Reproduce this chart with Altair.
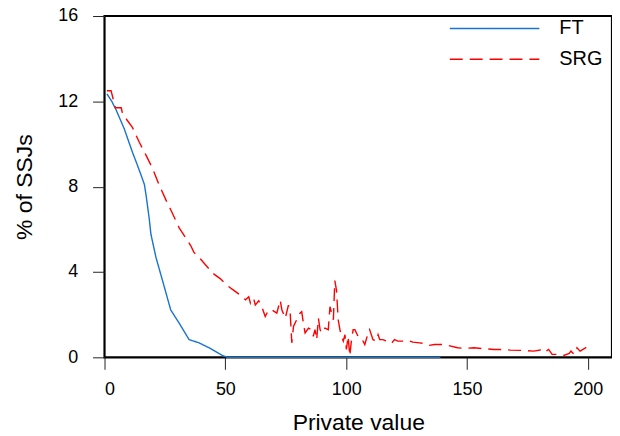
import altair as alt
import pandas as pd

# FT series (smooth blue line)
ft_x = [1, 3, 4.8, 8.2, 11.6, 13.3, 15.1, 16.5, 17.2, 18.5, 19.2, 21.3, 24, 27.4, 30.9, 35, 39.1, 43.2, 48.7, 51, 139]
ft_y = [12.35, 12.0, 11.6, 10.7, 9.6, 9.1, 8.55, 8.1, 7.6, 6.5, 5.77, 4.68, 3.6, 2.22, 1.6, 0.83, 0.68, 0.45, 0.09, 0.0, 0.0]

# SRG series (noisy red dashed line)
srg_x = [1, 2.7, 4.5, 6.9, 7.5, 9.6, 11.6, 14.4, 17.2, 19.9, 22.6, 25.4, 27.4, 30.9, 33.6, 35.7, 37, 39.8,
         43.2, 45.3, 48, 50.7, 53.5, 56.3, 58.3, 59.7, 60.4, 61.7, 62.4, 63.8, 65.1, 66.5, 67.9, 69.3, 71.3,
         72.7, 73.4, 74.8, 76.1, 76.8, 77.5, 78.2, 79.5, 80.9, 81.6, 82.3, 83, 84.4, 85.7, 86.4, 87.1, 87.8,
         88.5, 89.2, 89.8, 91.2, 92.6, 93.3, 94, 94.7, 95.3, 96, 96.7, 97.4, 98.1, 98.8, 99.5, 100.1, 100.8,
         101.5, 102.2, 102.9, 103.6, 104.9, 106.3, 107.7, 109.1, 109.7, 111.1, 112.5, 113.2, 113.9, 115.2,
         118.7, 120, 121.4, 124.1, 125.5, 127.6, 130.3, 132.4, 134.4, 136.5, 140.6, 146.1, 148.8, 152.9,
         157.1, 161.2, 165.3, 168, 173.5, 177.6, 180.4, 181.8, 183.8, 185.2, 187.5, 190, 192.3, 193, 194.4,
         195.5, 196.8, 199.6]
srg_y = [12.5, 12.5, 11.7, 11.7, 11.4, 11.08, 10.77, 10.08, 9.47, 8.85, 8.08, 7.38, 6.92, 6.07, 5.6, 5.23, 4.92, 4.6,
         4.15, 3.9, 3.68, 3.37, 3.14, 2.91, 2.7, 2.84, 2.53, 2.76, 2.45, 2.65, 2.37, 1.91, 2.22, 2.22, 2.07,
         2.68, 2.22, 1.83, 2.45, 2.14, 0.68, 1.45, 1.76, 2.07, 2.14, 1.6, 1.14, 1.37, 1.3, 0.99, 1.3, 0.83,
         1.83, 1.3, 1.14, 1.37, 1.3, 2.37, 2.07, 1.76, 3.6, 3.14, 1.76, 1.3, 0.99, 0.76, 1.06, 0.37, 0.99,
         0.06, 0.83, 1.3, 1.3, 0.99, 0.91, 0.6, 1.14, 1.3, 0.83, 0.76, 1.06, 0.83, 0.83,
         0.65, 0.83, 0.76, 0.76, 0.8, 0.71, 0.68, 0.65, 0.56, 0.6, 0.6, 0.45, 0.42, 0.45,
         0.4, 0.37, 0.37, 0.34, 0.32, 0.29, 0.34, 0.22, 0.37, 0.14, 0.14, 0.09, 0.18, 0.29, 0.14,
         0.45, 0.29, 0.48]

series_names = ["FT", "SRG"]
series_colors = ["#1874CD", "#FF0000"]
series_dashes = [[1, 0], [13, 7]]

x_ticks = [0, 50, 100, 150, 200]
y_ticks = [0, 4, 8, 12, 16]

df = pd.concat([
    pd.DataFrame({"x": ft_x, "y": ft_y, "series": "FT"}),
    pd.DataFrame({"x": srg_x, "y": srg_y, "series": "SRG"}),
], ignore_index=True)

FONT = "Liberation Sans"

chart = alt.Chart(df).mark_line(strokeWidth=1.4).encode(
    x=alt.X("x:Q",
            scale=alt.Scale(domain=[0, 210], nice=False, zero=False),
            axis=alt.Axis(values=x_ticks, title="Private value", titleY=73,
                          titleBaseline="alphabetic", labelPadding=11)),
    y=alt.Y("y:Q",
            scale=alt.Scale(domain=[0, 16], nice=False),
            axis=alt.Axis(values=y_ticks, title="% of SSJs", titleX=-73,
                          titleBaseline="alphabetic", labelPadding=15)),
    color=alt.Color("series:N",
                    scale=alt.Scale(domain=series_names, range=series_colors),
                    legend=alt.Legend(title=None)),
    strokeDash=alt.StrokeDash("series:N",
                              scale=alt.Scale(domain=series_names, range=series_dashes),
                              legend=alt.Legend(title=None)),
).properties(
    width=510, height=343,
    autosize=alt.AutoSizeParams(type="none"),
    padding={"left": 97, "top": 7, "right": 0, "bottom": 78},
).configure_view(
    stroke="black", strokeWidth=2.2
).configure_axis(
    domain=False, grid=False, ticks=True, tickSize=12, tickColor="#222", tickWidth=1,
    labelFont=FONT, labelFontSize=18, labelColor="black",
    titleFont=FONT, titleFontSize=23, titleFontWeight="normal", titleColor="black",
).configure_legend(
    orient="none", legendX=346, legendY=-3, padding=0, rowPadding=0, clipHeight=31,
    symbolType="stroke", symbolSize=8100, symbolStrokeWidth=1.4,
    labelFont=FONT, labelFontSize=20, labelColor="black", labelOffset=19,
)

chart.save("out.html", embed_options={"renderer": "svg", "actions": False})
